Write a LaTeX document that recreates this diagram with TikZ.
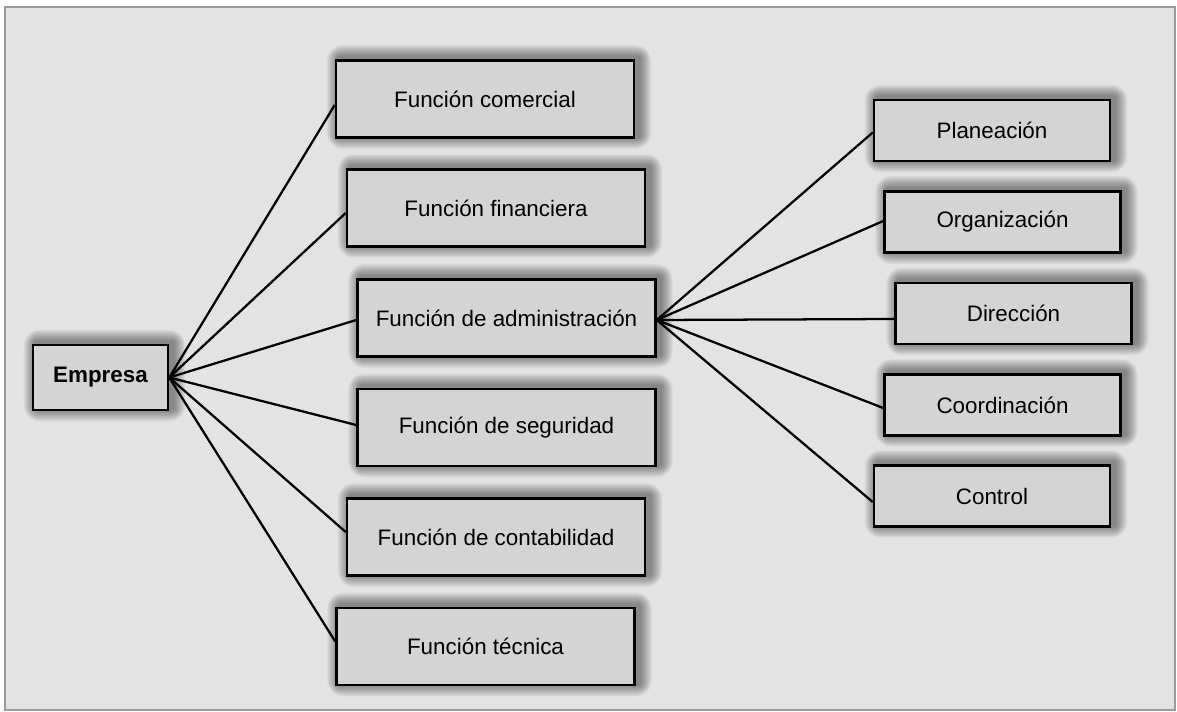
\documentclass[tikz,border=0pt]{standalone}
\usepackage{fontspec}
\setmainfont{Liberation Sans}
\usetikzlibrary{calc,backgrounds}
\definecolor{bggray}{HTML}{E3E3E3}
\definecolor{boxgray}{HTML}{D4D4D4}
\definecolor{framegray}{HTML}{9A9A9A}
\begin{document}
\begin{tikzpicture}[x=0.75pt,y=-0.75pt,
  basebox/.style={draw=black, line width=1.9pt, fill=boxgray, inner sep=0pt,
    font=\fontsize{16.8}{19}\selectfont},
  funcbox/.style={basebox, minimum width=223.5pt, minimum height=57.75pt},
  subbox/.style={basebox, minimum width=177pt, minimum height=45.75pt},
  rootbox/.style={basebox, minimum width=101.25pt, minimum height=48.75pt, font=\fontsize{16.8}{19}\selectfont\bfseries},
  link/.style={draw=black, line width=1.7pt},
  shadowlayer/.style={fill=black, opacity=0.038}]
\useasboundingbox (0,0) rectangle (1177,712);

\node[rootbox] (empresa) at (100.5,377.5) {Empresa};

\node[funcbox] (comercial) at (485,99) {Función comercial};
\node[funcbox] (financiera) at (496,208) {Función financiera};
\node[funcbox] (admin) at (506.5,318) {Función de administración};
\node[funcbox] (seguridad) at (506.5,427.5) {Función de seguridad};
\node[funcbox] (contabilidad) at (496,537) {Función de contabilidad};
\node[funcbox] (tecnica) at (485.5,646.5) {Función técnica};

\node[subbox] (planeacion) at (992,130.5) {Planeación};
\node[subbox] (organizacion) at (1002.5,222) {Organización};
\node[subbox] (direccion) at (1013.5,313.5) {Dirección};
\node[subbox] (coordinacion) at (1002.5,405) {Coordinación};
\node[subbox] (control) at (992,496) {Control};

\begin{scope}[on background layer]
  \fill[white] (0,0) rectangle (1177,712);
  \draw[framegray, line width=1.6pt, fill=bggray] (5,7) rectangle (1175,710);
  \foreach \n in {empresa,comercial,financiera,admin,seguridad,contabilidad,tecnica,planeacion,organizacion,direccion,coordinacion,control} {
    \foreach \r in {1,...,12} {
      \fill[shadowlayer, rounded corners=\r pt]
        ($(\n.south west)+(4-\r,-2+\r)$) rectangle ($(\n.north east)+(4+\r,-2-\r)$);
    }
  }
\end{scope}

\coordinate (hubL) at (empresa.east);
\coordinate (hubR) at ($(admin.east)+(0,2)$);

\draw[link] (hubL) -- ($(comercial.west)+(0,6)$);
\draw[link] (hubL) -- ($(financiera.west)+(0,5)$);
\draw[link] (hubL) -- ($(admin.west)+(0,2)$);
\draw[link] (hubL) -- ($(seguridad.west)+(0,-2.5)$);
\draw[link] (hubL) -- ($(contabilidad.west)+(0,-5)$);
\draw[link] (hubL) -- ($(tecnica.west)+(0,-5)$);

\draw[link] (hubR) -- ($(planeacion.west)+(0,2)$);
\draw[link] (hubR) -- ($(organizacion.west)+(0,-1)$);
\draw[link] (hubR) -- ($(direccion.west)+(0,5.5)$);
\draw[link] (hubR) -- ($(coordinacion.west)+(0,3)$);
\draw[link] (hubR) -- ($(control.west)+(0,6)$);
\end{tikzpicture}
\end{document}
